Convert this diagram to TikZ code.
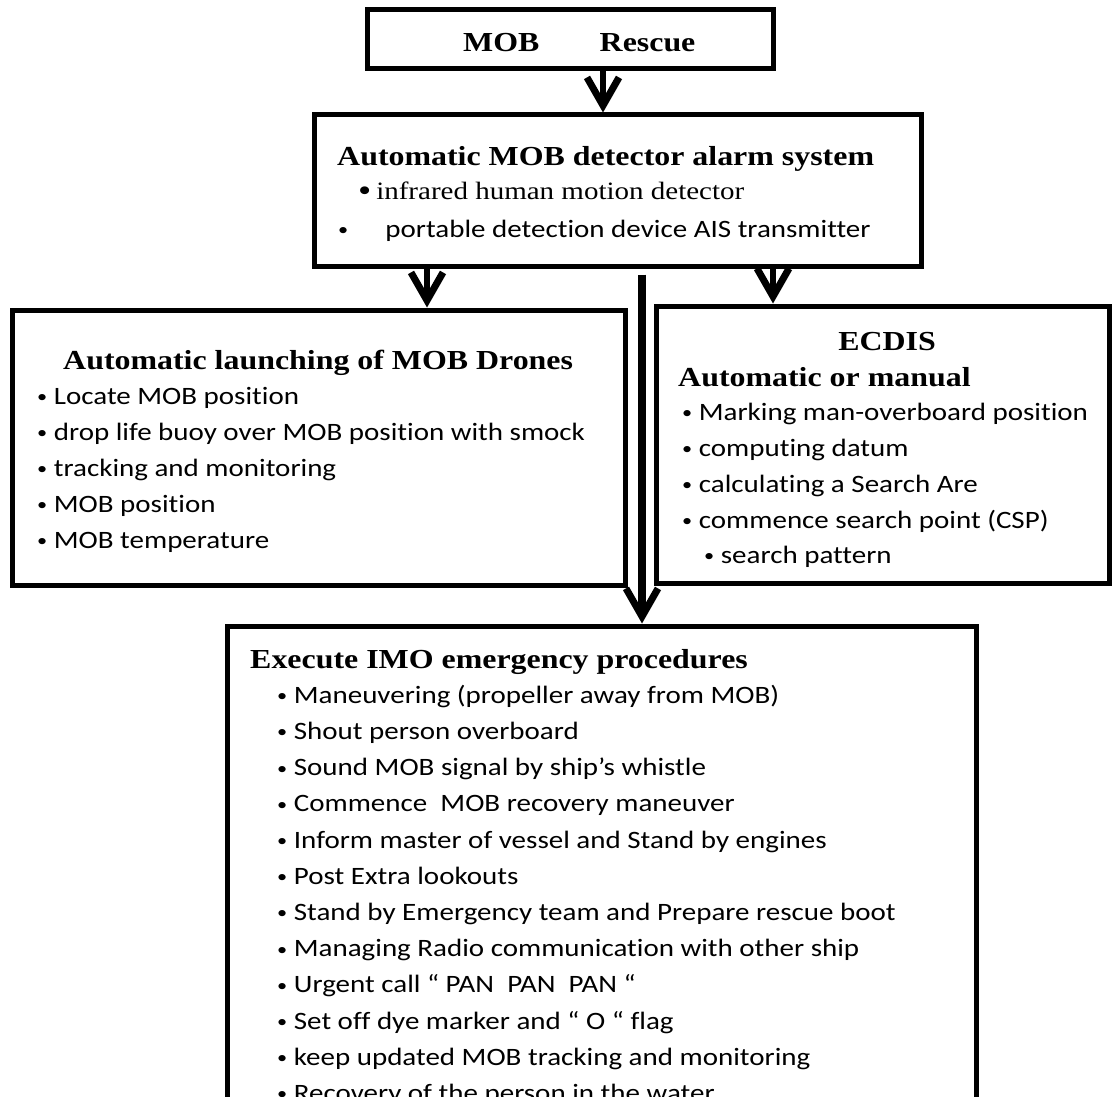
\documentclass[tikz,border=0pt]{standalone}
\usepackage{fontspec}
\setmainfont{Liberation Serif}
\newfontfamily\calib[Ligatures=NoCommon]{Carlito}
\newcommand\bul{\raisebox{1.5pt}{\scalebox{.7}{•}}}
\usetikzlibrary{arrows.meta}

\begin{document}
\begin{tikzpicture}[x=1pt,y=-1pt,
  box/.style={draw=black,line width=5pt,inner sep=0pt},
  txt/.style={anchor=base west,inner sep=0pt,xscale=1.16},
  head/.style={txt,font=\fontsize{27.5}{30}\selectfont\bfseries},
  serif/.style={txt,font=\fontsize{25}{30}\selectfont},
  item/.style={txt,font=\calib\fontsize{25}{30}\selectfont},
  arr/.style={line width=6.5pt,-{Straight Barb[length=28pt,width=32pt,line width=7pt]}}]
\useasboundingbox (0,0) rectangle (1112,1097);
\node[box,minimum width=406,minimum height=59] (rescue) at (570,39.5) {};
\node[box,minimum width=607,minimum height=151] (alarm) at (617.5,190.5) {};
\node[box,minimum width=613,minimum height=275] (drones) at (318.5,447.5) {};
\node[box,minimum width=453,minimum height=277] (ecdis) at (882.5,444.5) {};
\node[box,minimum width=749,minimum height=504] (imo) at (601.5,878) {};
\node[head] (rtitle) at (463,52) {MOB\hspace{52pt}Rescue};
\node[head] (atitle) at (337,166) {Automatic MOB detector alarm system};
\node[serif] (a1) at (358,200) {\raisebox{-1.8pt}{\scalebox{1.3}{•}}\,infrared human motion detector};
\node[item] (a2) at (338,237) {\bul\hspace{32pt}portable detection device AIS transmitter};
\node[head] (dtitle) at (63,369) {Automatic launching of MOB Drones};
\node[item] (d1) at (37,404) {\bul\ Locate MOB position};
\node[item] (d2) at (37,440) {\bul\ drop life buoy over MOB position with smock};
\node[item] (d3) at (37,476) {\bul\ tracking and monitoring};
\node[item] (d4) at (37,512) {\bul\ MOB position};
\node[item] (d5) at (37,548) {\bul\ MOB temperature};
\node[head,anchor=base] (etitle) at (887,350) {ECDIS};
\node[head] (esub) at (678,386) {Automatic or manual};
\node[item] (e1) at (682,420) {\bul\ Marking man-overboard position};
\node[item] (e2) at (682,456) {\bul\ computing datum};
\node[item] (e3) at (682,492) {\bul\ calculating a Search Are};
\node[item] (e4) at (682,528) {\bul\ commence search point (CSP)};
\node[item] (e5) at (704,563) {\bul\ search pattern};
\node[head] (mtitle) at (250,668) {Execute IMO emergency procedures};
\node[item] (m1) at (277,703) {\bul\ Maneuvering (propeller away from MOB)};
\node[item] (m2) at (277,739) {\bul\ Shout person overboard};
\node[item] (m3) at (277,775.5) {\bul\ Sound MOB signal by ship’s whistle};
\node[item] (m4) at (277,811.5) {\bul\ Commence\ \ MOB recovery maneuver};
\node[item] (m5) at (277,848) {\bul\ Inform master of vessel and Stand by engines};
\node[item] (m6) at (277,884) {\bul\ Post Extra lookouts};
\node[item] (m7) at (277,920) {\bul\ Stand by Emergency team and Prepare rescue boot};
\node[item] (m8) at (277,956.5) {\bul\ Managing Radio communication with other ship};
\node[item] (m9) at (277,992.5) {\bul\ Urgent call “ PAN\ \ PAN\ \ PAN “};
\node[item] (m10) at (277,1029) {\bul\ Set off dye marker and “ O “ flag};
\node[item] (m11) at (277,1065) {\bul\ keep updated MOB tracking and monitoring};
\node[item] (m12) at (277,1101) {\bul\ Recovery of the person in the water};
\draw[arr] ([xshift=33]rescue.south) -- ([xshift=-14.5]alarm.north);
\draw[arr] ([xshift=-190.5]alarm.south) -- ([xshift=108.5]drones.north);
\draw[arr] ([xshift=155.5]alarm.south) -- ([xshift=-109.5]ecdis.north);
\draw[arr,line width=8pt] ([xshift=24.5,yshift=-6]alarm.south) -- ([xshift=40.5]imo.north);
\end{tikzpicture}
\end{document}
